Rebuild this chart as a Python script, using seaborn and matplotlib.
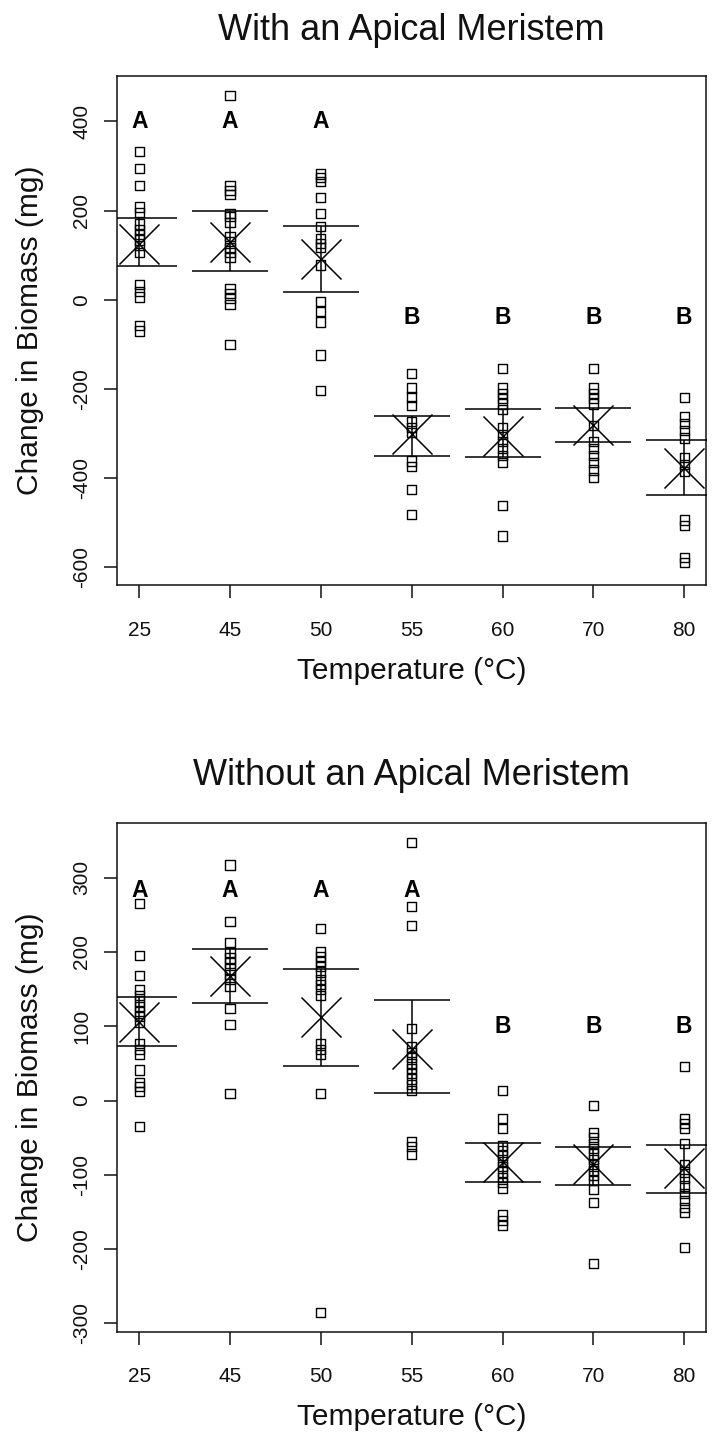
import numpy as np
import pandas as pd
import matplotlib
matplotlib.use("Agg")
import matplotlib.pyplot as plt
import seaborn as sns

# ---------------- data ----------------
temperatures = ["25", "45", "50", "55", "60", "70", "80"]

# With an apical meristem (change in biomass, mg)
with_25 = [333, 294, 256, 208, 196, 170, 158, 146, 134, 122, 106, 34, 18, 6, -58, -70]
with_45 = [458, 256, 246, 236, 194, 186, 174, 142, 130, 118, 106, 94, 26, 14, 2, -10, -100]
with_50 = [282, 274, 266, 229, 194, 165, 138, 126, 118, 78, -4, -26, -50, -124, -204]
with_55 = [-166, -198, -218, -238, -274, -286, -298, -362, -374, -426, -482]
with_60 = [-154, -198, -210, -222, -234, -246, -286, -302, -318, -334, -350, -366, -462, -530]
with_70 = [-154, -198, -210, -222, -234, -282, -318, -334, -350, -366, -382, -398]
with_80 = [-220, -262, -278, -294, -310, -354, -370, -386, -494, -506, -578, -590]
with_mean = [126, 130, 91, -302, -306, -282, -378]
with_err_low = [75, 65, 17, -350, -352, -320, -439]
with_err_high = [184, 200, 165, -260, -244, -242, -314]
with_letters = ["A", "A", "A", "B", "B", "B", "B"]
with_letter_y = [400, 400, 400, -40, -40, -40, -40]

# Without an apical meristem
without_25 = [265, 195, 168, 149, 141, 134, 127, 120, 113, 105, 77, 69, 62, 41, 24, 19, 12, -35]
without_45 = [317, 241, 213, 199, 192, 185, 177, 170, 163, 153, 124, 102, 10]
without_50 = [232, 201, 194, 187, 180, 173, 163, 156, 149, 141, 77, 69, 62, 10, -285]
without_55 = [347, 261, 236, 97, 72, 65, 58, 50, 43, 36, 29, 22, 14, -55, -62, -72]
without_60 = [14, -24, -38, -60, -67, -74, -82, -89, -96, -103, -110, -118, -154, -161, -168]
without_70 = [-7, -43, -50, -58, -65, -72, -79, -86, -94, -101, -108, -120, -137, -219]
without_80 = [46, -24, -31, -38, -58, -86, -96, -105, -115, -125, -134, -144, -151, -198]
without_mean = [106, 168, 112, 70, -82, -85, -91]
without_err_low = [73, 131, 47, 10, -110, -113, -125]
without_err_high = [139, 204, 177, 135, -57, -62, -60]
without_letters = ["A", "A", "A", "A", "B", "B", "B"]
without_letter_y = [283, 283, 283, 283, 100, 100, 100]

with_ticks = [-600, -400, -200, 0, 200, 400]
without_ticks = [-300, -200, -100, 0, 100, 200, 300]

# ---------------- style ----------------
sns.set_theme(style="white")
plt.rcParams["font.family"] = ["Liberation Sans", "DejaVu Sans"]
plt.rcParams["axes.edgecolor"] = "#111111"
plt.rcParams["axes.linewidth"] = 1.1

fig = plt.figure(figsize=(7.15, 14.37), dpi=100)
ax_top = fig.add_axes([0.1636, 0.5929, 0.8238, 0.3542])
ax_bot = fig.add_axes([0.1636, 0.0733, 0.8238, 0.3537])


def draw(ax, groups, means, lo, hi, letters, letter_y, ylim, yticks, title, title_y):
    df = pd.DataFrame({
        "Temperature": np.repeat(temperatures, [len(g) for g in groups]),
        "Change": np.concatenate(groups),
    })
    sns.scatterplot(data=df, x="Temperature", y="Change", marker="s", s=44,
                    linewidth=1.0, ax=ax, legend=False, zorder=3)
    pts = ax.collections[-1]
    pts.set_facecolor("none")
    pts.set_edgecolor("black")

    means_a = np.array(means, dtype=float)
    yerr = [means_a - np.array(lo), np.array(hi) - means_a]
    ax.errorbar(temperatures, means, yerr=yerr, fmt="none", ecolor="black",
                elinewidth=1.1, capsize=27.5, capthick=1.1, zorder=4)
    sns.scatterplot(x=temperatures, y=means, marker="x", s=830, color="black",
                    linewidth=1.1, ax=ax, legend=False, zorder=5)

    for t, lab, ly in zip(temperatures, letters, letter_y):
        ax.text(t, ly, lab, ha="center", va="center", fontsize=16.5,
                fontweight="bold", color="black", zorder=6)

    ax.set_xlim(-0.245, 6.24)
    ax.set_ylim(*ylim)
    ax.set_yticks(yticks)
    ax.set_yticklabels([str(v) for v in yticks])
    for spine in ax.spines.values():
        spine.set_visible(True)
        spine.set_color("#111111")
        spine.set_linewidth(1.1)
    ax.tick_params(axis="both", direction="out", length=9.6, width=1.1,
                   color="#111111", labelsize=15, labelcolor="#111111",
                   bottom=True, left=True, top=False, right=False)
    ax.tick_params(axis="x", pad=16)
    ax.tick_params(axis="y", pad=9, labelrotation=90)
    for lab in ax.get_yticklabels():
        lab.set_va("center")
    ax.set_xlabel("Temperature (°C)", fontsize=21.5, color="#111111")
    ax.set_ylabel("Change in Biomass (mg)", fontsize=21.5, color="#111111")
    ax.xaxis.set_label_coords(0.5, -0.141)
    ax.xaxis.label.set_va("top")
    ax.yaxis.set_label_coords(-0.124, 0.5)
    ax.grid(False)
    bb = ax.get_position()
    fig.text(bb.x0 + bb.width / 2, title_y, title, ha="center", va="baseline",
             fontsize=26, color="#111111")


draw(ax_top, [with_25, with_45, with_50, with_55, with_60, with_70, with_80],
     with_mean, with_err_low, with_err_high, with_letters, with_letter_y,
     (-640, 502), with_ticks, "With an Apical Meristem", 1 - 40 / 1437)
draw(ax_bot, [without_25, without_45, without_50, without_55, without_60, without_70, without_80],
     without_mean, without_err_low, without_err_high, without_letters, without_letter_y,
     (-311, 373), without_ticks, "Without an Apical Meristem", 1 - 785 / 1437)

fig.savefig("out.png", dpi=100, facecolor="white")
